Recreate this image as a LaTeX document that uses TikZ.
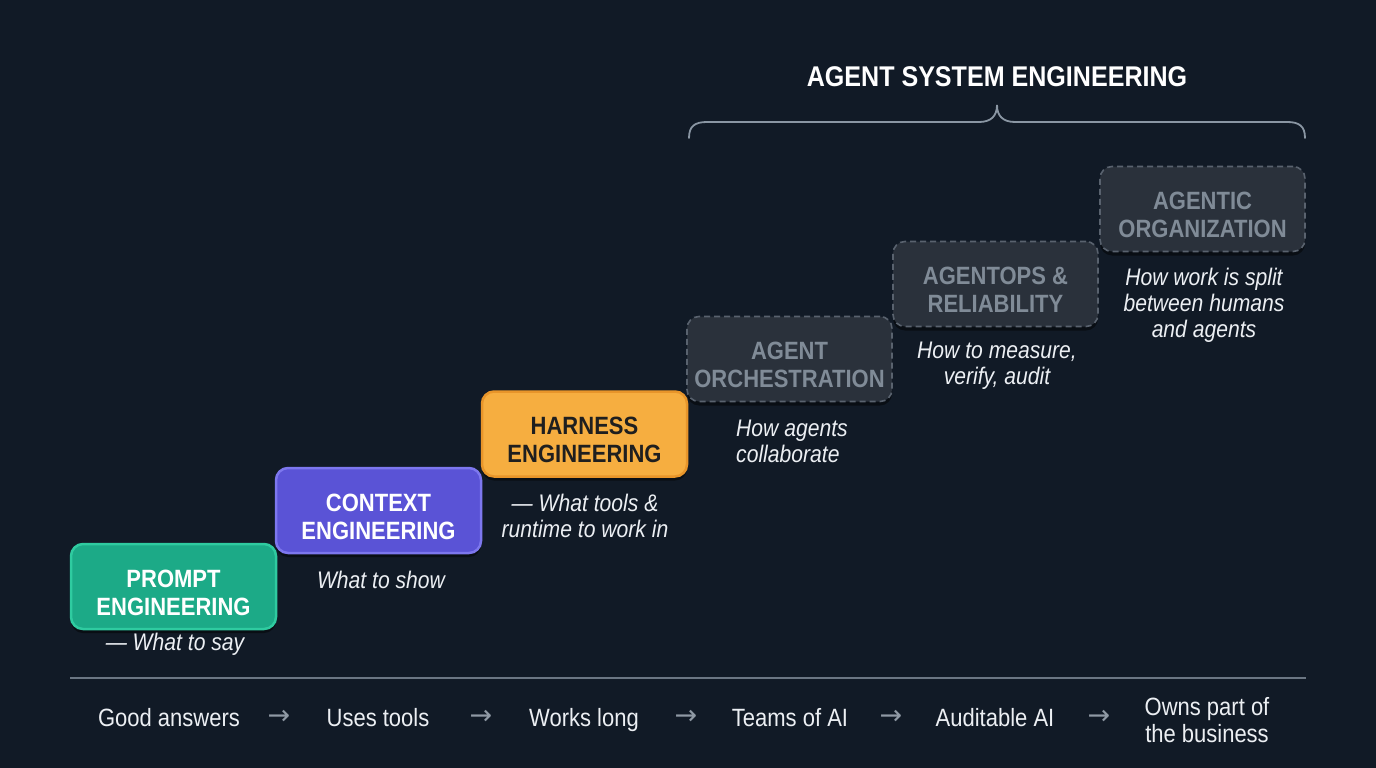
\documentclass[tikz,border=0pt]{standalone}
\usepackage{fontspec}
\setmainfont{Liberation Sans}[FakeStretch=0.88]
\newfontfamily\arrowfont{DejaVu Sans}
\usetikzlibrary{shadows}
\definecolor{bg}{HTML}{111A26}
\definecolor{tealf}{HTML}{1CAA87}
\definecolor{tealb}{HTML}{2FCBA0}
\definecolor{purf}{HTML}{5A53D6}
\definecolor{purb}{HTML}{7D77EE}
\definecolor{orf}{HTML}{F6AE40}
\definecolor{orb}{HTML}{E8952A}
\definecolor{grf}{HTML}{2A313B}
\definecolor{grb}{HTML}{59626E}
\definecolor{grt}{HTML}{808B97}
\definecolor{lineg}{HTML}{6B7683}
\definecolor{braceg}{HTML}{8A96A3}
\definecolor{arrg}{HTML}{8F99A4}
\definecolor{subt}{HTML}{ECEFF3}
\tikzset{
  stage/.style={rounded corners=12pt, minimum width=205pt, minimum height=85pt,
    inner sep=0pt, line width=2.5pt,
    drop shadow={shadow xshift=0pt, shadow yshift=-4pt, opacity=0.45, fill=black}},
  future/.style={stage, fill=grf, draw=grb, dashed, line width=1.6pt,
    dash pattern=on 6pt off 4pt},
  stagetext/.style={align=center, inner sep=0pt, yshift=-6pt,
    font=\fontsize{25}{28}\selectfont\bfseries},
  sub/.style={font=\fontsize{24}{26}\selectfont\itshape, text=subt, align=center, inner sep=0pt},
  step label/.style={font=\fontsize{25}{27}\selectfont, text=subt, align=center, inner sep=0pt, anchor=base},
  arrowglyph/.style={font=\arrowfont\fontsize{27}{27}\selectfont, text=arrg, inner sep=0pt},
}
\begin{document}
\begin{tikzpicture}[x=1pt, y=-1pt]
\fill[bg] (0,0) rectangle (1376,768);
\useasboundingbox (0,0) rectangle (1376,768);

% stage boxes
\node[stage, fill=tealf, draw=tealb] (prompt) at (173.5,586.5) {};
\node[stage, fill=purf, draw=purb] (context) at (378.5,510.5) {};
\node[stage, fill=orf, draw=orb] (harness) at (584.5,434) {};
\node[future] (orch) at (789.5,359) {};
\node[future] (ops) at (995.5,284) {};
\node[future] (org) at (1202.5,209) {};

\node[stagetext, text=white] (promptt) at (prompt.center) {PROMPT\\ENGINEERING};
\node[stagetext, text=white] (contextt) at (context.center) {CONTEXT\\ENGINEERING};
\node[stagetext, text=black!88] (harnesst) at (harness.center) {HARNESS\\ENGINEERING};
\node[stagetext, text=grt] (orcht) at (orch.center) {AGENT\\ORCHESTRATION};
\node[stagetext, text=grt] (opst) at (ops.center) {AGENTOPS \&\\RELIABILITY};
\node[stagetext, text=grt] (orgt) at (org.center) {AGENTIC\\ORGANIZATION};

% subtitles
\node[sub] (s1) at (175,644) {--- What to say};
\node[sub] (s2) at (381,580) {What to show};
\node[sub] (s3) at (585,516) {--- What tools \&\\runtime to work in};
\node[sub, align=left] (s4) at (792,441) {How agents\\collaborate};
\node[sub] (s5) at (997,366) {How to measure,\\verify, audit};
\node[sub] (s6) at (1204,305) {How work is split\\between humans\\and agents};

% brace and title
\node[font=\fontsize{28.5}{30}\selectfont\bfseries, text=white, inner sep=0pt] (title) at (997,77) {AGENT SYSTEM ENGINEERING};
\coordinate (bl) at (689,138);
\coordinate (br) at (1305,138);
\coordinate (bt) at (997,105);
\draw[braceg, line width=1.8pt, line cap=round]
  (bl) .. controls (689,126) and (695,122) .. (707,122)
  -- (979,122) .. controls (991,122) and (997,116) .. (bt)
  .. controls (997,116) and (1003,122) .. (1015,122)
  -- (1287,122) .. controls (1299,122) and (1305,126) .. (br);

% baseline rule
\coordinate (rl) at (70,678);
\coordinate (rr) at (1306,678);
\draw[lineg, line width=2pt] (rl) -- (rr);

% bottom progression
\node[step label] (g1) at (169,726) {Good answers};
\node[arrowglyph] (a1) at (279,717) {→};
\node[step label] (g2) at (378,726) {Uses tools};
\node[arrowglyph] (a2) at (481,717) {→};
\node[step label] (g3) at (584,726) {Works long};
\node[arrowglyph] (a3) at (686,717) {→};
\node[step label] (g4) at (790,726) {Teams of AI};
\node[arrowglyph] (a4) at (891,717) {→};
\node[step label] (g5) at (995,726) {Auditable AI};
\node[arrowglyph] (a5) at (1099,717) {→};
\node[step label, anchor=center] (g6) at (1207,720) {Owns part of\\the business};
\end{tikzpicture}
\end{document}
